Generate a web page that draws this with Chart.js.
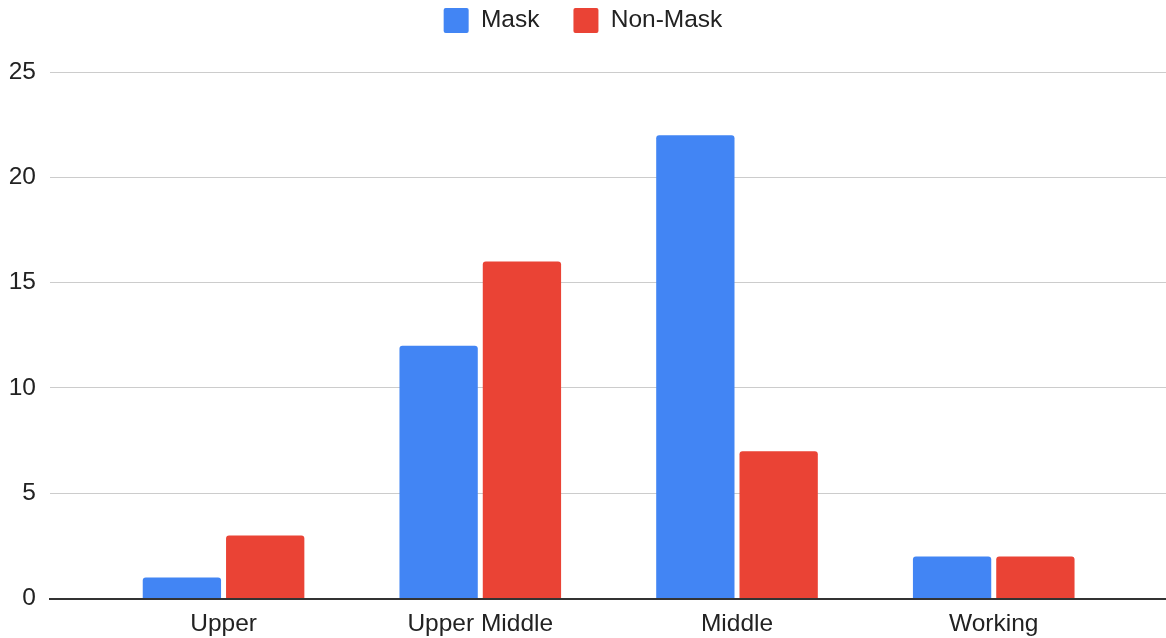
<!DOCTYPE html>
<html lang="en">
<head>
    <meta charset="UTF-8">
    <title>Mask vs Non-Mask by Class</title>
    <script src="https://cdn.jsdelivr.net/npm/chart.js"></script>
    <style>
        html, body {
            margin: 0;
            padding: 0;
            background: white;
        }
        .wrap {
            width: 1166px;
            height: 638px;
            position: relative;
        }
    </style>
</head>
<body>
    <div class="wrap">
        <canvas id="maskChart"></canvas>
    </div>
    <script>
        // data
        const categories = ['Upper', 'Upper Middle', 'Middle', 'Working'];
        const maskValues = [1, 12, 22, 2];
        const nonMaskValues = [3, 16, 7, 2];
        const yTicks = [0, 5, 10, 15, 20, 25];

        const FONT = "'Liberation Sans', Arial, Helvetica, sans-serif";
        const FONT_SIZE = 24.5;

        // legend sits well above the plot, so add room under it
        const legendGap = {
            id: 'legendGap',
            afterInit(chart) {
                const legend = chart.legend;
                const fit = legend.fit;
                legend.fit = function () {
                    fit.call(this);
                    this.height += 29;
                };
            }
        };

        function toPoints(values) {
            return values.map((v, i) => ({ x: i, y: v }));
        }

        const ctx = document.getElementById('maskChart').getContext('2d');
        new Chart(ctx, {
            type: 'bar',
            data: {
                datasets: [
                    {
                        label: 'Mask',
                        data: toPoints(maskValues),
                        backgroundColor: '#4285F4'
                    },
                    {
                        label: 'Non-Mask',
                        data: toPoints(nonMaskValues),
                        backgroundColor: '#EA4335'
                    }
                ]
            },
            options: {
                responsive: true,
                maintainAspectRatio: false,
                animation: false,
                layout: { padding: { top: -26, bottom: -12, left: 0, right: 0 } },
                datasets: {
                    bar: {
                        categoryPercentage: 0.649,
                        barPercentage: 0.94,
                        borderRadius: { topLeft: 3, topRight: 3 },
                        borderSkipped: 'start'
                    }
                },
                plugins: {
                    legend: {
                        position: 'top',
                        labels: {
                            boxWidth: 25,
                            boxHeight: 25,
                            padding: 34,
                            color: '#222',
                            useBorderRadius: true,
                            borderRadius: 2,
                            font: { family: FONT, size: FONT_SIZE }
                        }
                    },
                    tooltip: { enabled: false }
                },
                scales: {
                    x: {
                        type: 'linear',
                        offset: false,
                        min: -0.676,
                        max: 3.671,
                        grid: { display: false, drawTicks: false },
                        border: { display: true, color: '#333', width: 2 },
                        afterBuildTicks(axis) {
                            axis.ticks = categories.map((_, i) => ({ value: i }));
                        },
                        ticks: {
                            autoSkip: false,
                            maxRotation: 0,
                            padding: 11,
                            color: '#222',
                            font: { family: FONT, size: FONT_SIZE },
                            callback: (v) => categories[v]
                        }
                    },
                    y: {
                        min: 0,
                        max: 25,
                        afterBuildTicks(axis) {
                            axis.ticks = yTicks.map(v => ({ value: v }));
                        },
                        afterFit(axis) {
                            axis.width = 50;
                        },
                        grid: {
                            drawTicks: false,
                            lineWidth: 1,
                            color: (c) => c.tick && c.tick.value === 0 ? 'rgba(0,0,0,0)' : '#cccccc'
                        },
                        border: { display: false },
                        ticks: {
                            padding: 14,
                            color: '#222',
                            font: { family: FONT, size: FONT_SIZE }
                        }
                    }
                }
            },
            plugins: [legendGap]
        });
    </script>
</body>
</html>
